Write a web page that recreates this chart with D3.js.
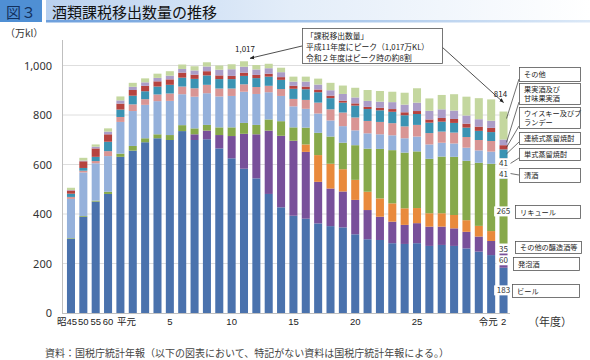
<!DOCTYPE html>
<html><head><meta charset="utf-8">
<script src="https://cdn.jsdelivr.net/npm/d3@7"></script>
<style>
body{margin:0;background:#fff}
svg{display:block}
text{font-family:"Noto Sans CJK JP","Noto Sans",sans-serif}
</style>
</head><body>
<svg id="c" width="590" height="360"></svg>
<script>
// ---------- data (万kl) ----------
const categories = [1970,1975,1980,1985,1989,1990,1991,1992,1993,1994,1995,1996,1997,1998,1999,2000,
  2001,2002,2003,2004,2005,2006,2007,2008,2009,2010,2011,2012,2013,2014,2015,2016,2017,2018,2019,2020];
const beer        = [299,389,450,481,631,656,690,706,699,735,699,702,665,625,583,544,481,427,393,381,362,351,346,318,298,295,282,279,282,271,275,271,261,248,234,183];
const happoshu    = [0,0,0,0,0,0,0,0,0,0,23,35,54,90,141,178,256,289,303,270,168,152,145,139,118,94,87,77,81,78,74,71,67,61,57,60];
const otherBrewed = [0,0,0,0,0,0,0,0,0,0,0,0,0,0,0,0,0,0,0,30,108,100,90,81,74,74,74,67,61,54,54,54,47,43,40,35];
const liqueur     = [3,3,4,9,13,19,16,16,20,24,24,23,31,35,44,38,45,59,54,68,90,110,107,140,174,200,215,225,229,220,229,235,240,255,272,265];
const sake        = [159,176,151,144,128,141,135,134,138,125,128,128,125,127,126,125,110,102,85,76,78,65,67,60,62,59,60,58,60,58,56,54,53,50,49,41];
const shochuSingle= [8,7,9,20,20,27,23,27,30,31,34,34,32,30,30,28,26,28,30,36,44,45,55,52,50,50,49,48,47,46,45,44,43,42,43,41];
const shochuCont  = [13,11,17,38,30,35,32,32,35,36,38,38,38,38,34,36,37,37,41,43,42,45,40,48,48,47,46,45,44,42,40,39,38,37,36,36];
const whisky      = [13,27,34,30,24,23,22,21,22,20,17,17,15,13,13,13,12,11,12,11,11,10,8,9,9,10,11,12,12,13,15,16,16,17,17,17];
const fruitWine   = [2,3,7,11,13,13,14,14,15,15,17,19,23,27,24,22,22,20,17,20,20,22,27,24,24,25,28,31,34,35,35,34,33,30,29,23];
const others      = [9,11,9,13,16,16,16,17,18,18,17,17,17,20,22,18,18,18,20,20,24,30,34,39,44,43,42,48,58,50,58,66,76,85,86,113];

const seriesNames = ["ビール","発泡酒","その他の醸造酒等","リキュール","清酒","単式蒸留焼酎","連続式蒸留焼酎","ウイスキー及びブランデー","果実酒及び甘味果実酒","その他"];
const seriesData  = [beer,happoshu,otherBrewed,liqueur,sake,shochuSingle,shochuCont,whisky,fruitWine,others];
const seriesColors= ["#4a72ad","#78509a","#e98a3c","#87a94b","#95b1db","#d99594","#3b93b3","#b6433f","#ab9dc8","#c4d79f"];

const yTicks = [0,200,400,600,800,1000];
const tickYears = [1970,1975,1980,1985,1989,1993,1998,2003,2008,2013,2019,2020];
const tickTexts = ["昭45","50","55","60","平元","5","10","15","20","25","令元","2"];
const peakValue = 1017, peakYear = 1999, lastYear = 2020, lastTotal = 814;

// ---------- setup ----------
const svg = d3.select("#c");
const x = d3.scaleBand().domain(categories).range([64.8, 509.7]).paddingInner(0.35).paddingOuter(0.175);
const y = d3.scaleLinear().domain([0, 1000]).range([313, 65.5]);

const rows = categories.map((c,i)=>{const r={cat:c}; seriesNames.forEach((n,j)=>r[n]=seriesData[j][i]); return r;});
const stacked = d3.stack().keys(seriesNames)(rows);

// ---------- title ----------
const defs = svg.append("defs");
const g1 = defs.append("linearGradient").attr("id","tg").attr("x1","0").attr("x2","1").attr("y1","0").attr("y2","0");
g1.append("stop").attr("offset","0%").attr("stop-color","#b9d1ef");
g1.append("stop").attr("offset","45%").attr("stop-color","#e3edf9");
g1.append("stop").attr("offset","100%").attr("stop-color","#ffffff");
const g2 = defs.append("linearGradient").attr("id","tb").attr("x1","0").attr("x2","1").attr("y1","0").attr("y2","0");
g2.append("stop").attr("offset","0%").attr("stop-color","#6d9fdc");
g2.append("stop").attr("offset","100%").attr("stop-color","#dbe8f7");
defs.append("marker").attr("id","ah").attr("viewBox","0 0 10 10").attr("refX",9).attr("refY",5)
  .attr("markerWidth",6).attr("markerHeight",6).attr("orient","auto")
  .append("path").attr("d","M0,1 L10,5 L0,9 z").attr("fill","#222");

svg.append("rect").attr("x",0).attr("y",0).attr("width",42).attr("height",22).attr("fill","#4f8fd4");
svg.append("text").attr("x",21).attr("y",17.5).attr("text-anchor","middle").attr("font-size",15).attr("fill","#13315e").text("図３");
svg.append("rect").attr("x",46).attr("y",0).attr("width",544).attr("height",22).attr("fill","url(#tg)");
svg.append("rect").attr("x",46).attr("y",20).attr("width",544).attr("height",2.5).attr("fill","url(#tb)");
svg.append("text").attr("x",52).attr("y",17.5).attr("font-size",15).attr("fill","#111").text("酒類課税移出数量の推移");

svg.append("text").attr("x",5).attr("y",37).attr("font-size",10).attr("fill","#333").text("（万kl）");

// ---------- grid & axes ----------
svg.append("g").selectAll("line").data(yTicks.filter(d=>d>0)).join("line")
  .attr("x1",62).attr("x2",510).attr("y1",d=>y(d)).attr("y2",d=>y(d))
  .attr("stroke","#dedede").attr("stroke-width",1);

// ---------- bars ----------
svg.append("g").selectAll("g").data(stacked).join("g")
  .attr("fill",(d,i)=>seriesColors[i])
  .selectAll("rect").data(d=>d).join("rect")
  .attr("x",d=>x(d.data.cat)).attr("width",x.bandwidth())
  .attr("y",d=>y(d[1])).attr("height",d=>Math.max(0,y(d[0])-y(d[1])));

svg.append("line").attr("x1",62.5).attr("x2",62.5).attr("y1",40).attr("y2",313).attr("stroke","#bfbfbf");
svg.append("line").attr("x1",62).attr("x2",510).attr("y1",313.5).attr("y2",313.5).attr("stroke","#bfbfbf");

const yAxis = svg.append("g").attr("transform","translate(62,0)")
  .call(d3.axisLeft(y).tickValues(yTicks).tickFormat(d3.format(",")).tickSize(0).tickPadding(10));
yAxis.select(".domain").remove();
yAxis.selectAll("text").attr("font-size",11).attr("fill","#333").style("font-family","'Noto Sans','DejaVu Sans',sans-serif");

const dxMap = {"昭45":-4,"平元":6,"令元":-3};
const xAxis = svg.append("g").attr("transform","translate(0,313)")
  .call(d3.axisBottom(x).tickValues(tickYears).tickFormat((d,i)=>tickTexts[i]).tickSize(0).tickPadding(5));
xAxis.select(".domain").remove();
xAxis.selectAll("text").attr("font-size",9.5).attr("fill","#222")
  .style("font-family","'Liberation Sans','Noto Sans CJK JP',sans-serif")
  .attr("dx",(d,i)=>dxMap[tickTexts[i]]||0);

svg.append("text").attr("x",528).attr("y",326).attr("font-size",11).attr("fill","#333").text("（年度）");

// ---------- last-bar data labels ----------
const lastIdx = categories.indexOf(lastYear);
const xc = x(lastYear) + x.bandwidth()/2;
const labelled = ["ビール","発泡酒","その他の醸造酒等","リキュール","清酒","単式蒸留焼酎"];
const lbl = svg.append("g");
stacked.forEach((s,j)=>{
  if(!labelled.includes(s.key)) return;
  const d = s[lastIdx];
  const v = d[1]-d[0];
  const cy = (y(d[0])+y(d[1]))/2;
  const t = String(v);
  const w = t.length*4.6+5;
  lbl.append("rect").attr("x",xc-w/2).attr("y",cy-5).attr("width",w).attr("height",10).attr("fill","#fff");
  lbl.append("text").attr("x",xc).attr("y",cy+3).attr("text-anchor","middle").attr("font-size",8).attr("fill","#333").text(t);
});

// ---------- legend boxes ----------
const legendBoxes = [
  {k:"その他", x:519,y:67,w:61,h:14, lines:["その他"]},
  {k:"果実酒及び甘味果実酒", x:519,y:83,w:61,h:21, lines:["果実酒及び","甘味果実酒"]},
  {k:"ウイスキー及びブランデー", x:519,y:107,w:61,h:21, lines:["ウイスキー及びブ","ランデー"]},
  {k:"連続式蒸留焼酎", x:519,y:132,w:61,h:12, lines:["連続式蒸留焼酎"]},
  {k:"単式蒸留焼酎", x:519,y:148,w:61,h:12, lines:["単式蒸留焼酎"]},
  {k:"清酒", x:519,y:168,w:61,h:14, lines:["清酒"]},
  {k:"リキュール", x:515,y:205,w:65,h:13, lines:["リキュール"]},
  {k:"その他の醸造酒等", x:515,y:241,w:66,h:12, lines:["その他の醸造酒等"]},
  {k:"発泡酒", x:513,y:257,w:66,h:13, lines:["発泡酒"]},
  {k:"ビール", x:512,y:284,w:67,h:13, lines:["ビール"]}
];
const leaders = {"その他":0.75,"果実酒及び甘味果実酒":0.5,"ウイスキー及びブランデー":0.5,"連続式蒸留焼酎":0.5,"単式蒸留焼酎":0.5,"清酒":0.5};
const lg = svg.append("g");
legendBoxes.forEach(b=>{
  if(b.k in leaders){
    const s = stacked.find(s=>s.key===b.k)[lastIdx];
    const ty = y(s[0]) + (y(s[1])-y(s[0]))*leaders[b.k];
    const sy = b.k==="清酒" ? b.y+b.h/2 : b.y+b.h-2;
    lg.append("line").attr("x1",b.x).attr("y1",sy).attr("x2",x(lastYear)+x.bandwidth()+ (labelled.includes(b.k)?3:-1)).attr("y2",ty)
      .attr("stroke","#333").attr("stroke-width",0.7);
  }
  lg.append("rect").attr("x",b.x+0.5).attr("y",b.y+0.5).attr("width",b.w).attr("height",b.h)
    .attr("fill","#fff").attr("stroke","#555").attr("stroke-width",0.8);
  b.lines.forEach((t,i)=>{
    lg.append("text").attr("x",b.x+5).attr("y",b.y+(b.lines.length===1? b.h/2+3 : 8.5+i*9))
      .attr("font-size",7.2).attr("fill","#222").text(t);
  });
});

// ---------- annotations ----------
const px = x(peakYear)+x.bandwidth()/2;
svg.append("text").attr("x",px+1).attr("y",52).attr("text-anchor","middle").attr("font-size",8).attr("fill","#222").text(d3.format(",")(peakValue));
svg.append("line").attr("x1",302).attr("y1",46).attr("x2",px+6).attr("y2",y(peakValue)-3)
  .attr("stroke","#222").attr("stroke-width",0.8).attr("marker-end","url(#ah)");
svg.append("line").attr("x1",442).attr("y1",47).attr("x2",xc).attr("y2",y(lastTotal)-9)
  .attr("stroke","#222").attr("stroke-width",0.8).attr("marker-end","url(#ah)");
svg.append("text").attr("x",xc-3).attr("y",y(lastTotal)-15).attr("text-anchor","middle").attr("font-size",8).attr("fill","#222").text(lastTotal);

svg.append("rect").attr("x",302.5).attr("y",28.5).attr("width",140).attr("height",35)
  .attr("fill","#fff").attr("stroke","#555").attr("stroke-width",0.8);
["「課税移出数量」","平成11年度にピーク（1,017万KL）","令和２年度はピーク時の約8割"].forEach((t,i)=>{
  svg.append("text").attr("x",306).attr("y",38.5+i*11.2).attr("font-size",7.8).attr("fill","#222").text(t);
});

// ---------- source ----------
svg.append("text").attr("x",45).attr("y",357).attr("font-size",10).attr("fill","#444")
  .text("資料：国税庁統計年報（以下の図表において、特記がない資料は国税庁統計年報による。）");
</script>
</body></html>
